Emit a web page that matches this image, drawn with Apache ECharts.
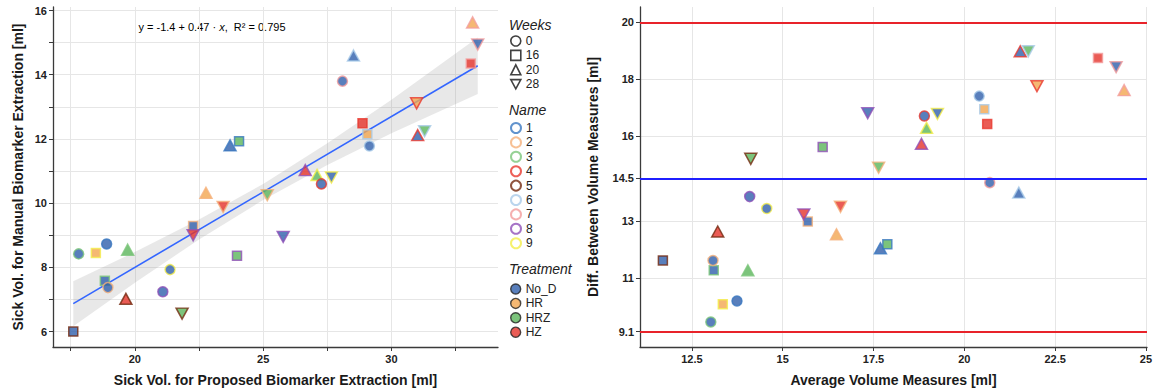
<!DOCTYPE html>
<html>
<head>
<meta charset="utf-8">
<title>Sick volume: proposed vs manual biomarker extraction</title>
<script src="https://cdn.jsdelivr.net/npm/echarts@6/dist/echarts.min.js"></script>
<style>
  html, body { margin: 0; padding: 0; background: #ffffff; }
  #chart { width: 1156px; height: 391px; }
</style>
</head>
<body>
<div id="chart"></div>
<script>
// ---- observations (one entry per scan) ----
const weeks      = ['20','0','16','16','0','20','16','20','20','0','28','20','28','28','16','28','28','16','0','16','0','20','0','16','0','0','20','28','16','20','28','16','28','20','28'];
const names      = ['6','7','4','6','6','1','1','8','9','4','9','2','2','2','2','8','8','8','3','9','1','3','9','3','2','8','5','5','5','7','7','7','4','4','6'];
const treatments = ['No_D','No_D','HZ','HR','No_D','No_D','HRZ','HZ','HRZ','No_D','No_D','HR','HRZ','HZ','No_D','HZ','No_D','HRZ','No_D','HR','No_D','HRZ','No_D','No_D','No_D','No_D','HZ','HRZ','No_D','HR','No_D','HZ','HR','No_D','HRZ'];

// left panel: proposed (x) vs manual (y) extraction, ml
const proposedVol = [28.52,28.09,28.87,29.06,29.14,23.71,24.06,26.64,27.10,27.27,27.66,22.77,25.16,23.44,22.27,22.27,25.78,23.98,17.81,18.48,18.90,19.72,21.37,18.83,18.95,21.09,19.65,21.84,17.60,33.16,33.36,33.09,30.98,31.02,31.29];
const manualVol   = [14.60,13.80,12.49,12.15,11.78,11.80,11.93,11.03,10.88,10.60,10.80,10.32,10.25, 9.88, 9.29, 9.00, 8.95, 8.36, 8.42, 8.45, 8.73, 8.55, 7.93, 7.58, 7.37, 7.24, 7.02, 6.56, 6.00,15.63,14.94,14.35,13.11,12.12,12.24];

// right panel: average (x) vs difference (y) of the two measures, ml
const averageVol = [21.50,20.70,20.63,20.55,20.41,17.69,17.88,18.82,18.96,18.90,19.26,16.48,17.64,16.59,15.69,15.58,17.34,16.10,13.02,13.35,13.74,14.04,14.56,13.10,13.08,14.09,13.21,14.12,11.70,24.40,24.18,23.68,22.00,21.54,21.76];
const diffVol    = [14.00,14.35,16.42,16.94,17.40,12.04,12.18,15.72,16.28,16.70,16.77,12.53,14.88,13.50,12.98,13.23,16.80,15.61, 9.44,10.07,10.18,11.26,13.44,11.26,11.61,13.86,12.63,15.19,11.61,17.61,18.42,18.74,17.75,18.98,18.98];

// legend levels
const weekLevels      = ['0','16','20','28'];
const nameLevels      = ['1','2','3','4','5','6','7','8','9'];
const treatmentLevels = ['No_D','HR','HRZ','HZ'];

// linear fit and its confidence band
const fitIntercept = -1.4;
const fitSlope     = 0.47;
const fitR2        = 0.795;
const fitXRange    = [17.6, 33.36];
const bandX    = [17.6, 20.0, 22.5, 25.0, 27.5, 30.0, 33.36];
const bandLow  = [6.17, 7.52, 8.87, 10.10, 11.19, 12.18, 13.40];
const bandHigh = [7.57, 8.48, 9.49, 10.60, 11.87, 13.22, 15.16];

// agreement lines
const meanDiff   = 14.5;
const upperLimit = 20;
const lowerLimit = 9.1;

// ticks and labels
const leftXTicks  = [17.5, 20, 22.5, 25, 27.5, 30, 32.5];
const leftXLabels = [20, 25, 30];
const leftYTicks  = [6, 7, 8, 9, 10, 11, 12, 13, 14, 15, 16];
const leftYLabels = [6, 8, 10, 12, 14, 16];
const rightXTicks = [12.5, 15, 17.5, 20, 22.5, 25];
const rightYTicks = [9.1, 11, 13, 14.5, 16, 18, 20];

// ---- styling ----
const nameColors = {
  '1': '#3a78c0', '2': '#f5b07a', '3': '#7cc67a', '4': '#e8382e', '5': '#73290f',
  '6': '#a9cbe8', '7': '#f39c9c', '8': '#9050b8', '9': '#f4ee4a'
};
const treatmentColors = { 'No_D': '#2f5fab', 'HR': '#f2a650', 'HRZ': '#5bb55b', 'HZ': '#e5332a' };
const weekSymbols = {
  '0':  { symbol: 'circle',   size: 10, rotate: 0 },
  '16': { symbol: 'rect',     size: 9,  rotate: 0 },
  '20': { symbol: 'triangle', size: [12, 11], rotate: 0 },
  '28': { symbol: 'triangle', size: [12, 11], rotate: 180 }
};
const downTrianglePath = 'path://M0,0L12,0L6,11Z';
const legendIcons = { '0': 'circle', '16': 'rect', '20': 'triangle', '28': downTrianglePath };

const FONT = '"Liberation Sans", Arial, Helvetica, sans-serif';
const AXIS_COLOR = '#3a3a3a';
const GRID_COLOR = '#e6e6e6';

function pointItem(i, x, y) {
  const s = weekSymbols[weeks[i]];
  return {
    value: [x, y],
    symbol: s.symbol,
    symbolSize: s.size,
    symbolRotate: s.rotate,
    itemStyle: {
      color: treatmentColors[treatments[i]],
      borderColor: nameColors[names[i]],
      borderWidth: 1.5
    }
  };
}

function valueAxis(opts) {
  return {
    type: 'value',
    gridIndex: opts.grid,
    min: opts.min,
    max: opts.max,
    name: opts.name,
    nameLocation: 'middle',
    nameGap: opts.nameGap,
    nameTextStyle: { fontFamily: FONT, fontSize: 14, fontWeight: 'bold', color: '#1a1a1a' },
    axisLine: { show: true, onZero: false, lineStyle: { color: AXIS_COLOR, width: 1.3 } },
    axisTick: { show: true, inside: false, length: 4, customValues: opts.ticks,
                lineStyle: { color: AXIS_COLOR, width: 1 } },
    axisLabel: { show: true, customValues: opts.labels, margin: 6,
                 fontFamily: FONT, fontSize: 11, fontWeight: 'bold', color: '#222',
                 formatter: v => String(v) },
    splitLine: { show: true, lineStyle: { color: GRID_COLOR, width: 1 } },
    minorTick: { show: false },
    minorSplitLine: { show: false }
  };
}

const chart = echarts.init(document.getElementById('chart'), null, { renderer: 'svg' });

const legendText = { fontFamily: FONT, fontSize: 12, color: '#222' };
function legendBlock(top, items) {
  return {
    orient: 'vertical', left: 510, top: top, padding: 0,
    itemWidth: 10, itemHeight: 10, itemGap: 2.4,
    selectedMode: false, textStyle: legendText,
    data: items
  };
}

const option = {
  animation: false,
  backgroundColor: '#ffffff',
  grid: [
    { left: 53, top: 7, width: 445, height: 340, outerBoundsMode: 'none' },
    { left: 640, top: 7, width: 507, height: 340, outerBoundsMode: 'none' }
  ],
  xAxis: [
    valueAxis({ grid: 0, min: 16.81, max: 34.15, ticks: leftXTicks, labels: leftXLabels,
                name: 'Sick Vol. for Proposed Biomarker Extraction [ml]', nameGap: 26 }),
    valueAxis({ grid: 1, min: 11.07, max: 25.03, ticks: rightXTicks, labels: rightXTicks,
                name: 'Average Volume Measures [ml]', nameGap: 26 })
  ],
  yAxis: [
    valueAxis({ grid: 0, min: 5.52, max: 16.11, ticks: leftYTicks, labels: leftYLabels,
                name: 'Sick Vol. for Manual Biomarker Extraction [ml]', nameGap: 28 }),
    valueAxis({ grid: 1, min: 8.56, max: 20.54, ticks: rightYTicks, labels: rightYTicks,
                name: 'Diff. Between Volume Measures [ml]', nameGap: 40 })
  ],
  legend: [
    legendBlock(35, weekLevels.map(w => ({
      name: w, icon: legendIcons[w],
      itemStyle: { color: 'rgba(0,0,0,0)', borderColor: '#111', borderWidth: 1.6 }
    }))),
    legendBlock(122, nameLevels.map(n => ({
      name: n, icon: 'circle',
      itemStyle: { color: 'rgba(0,0,0,0)', borderColor: nameColors[n], borderWidth: 2 }
    }))),
    legendBlock(283, treatmentLevels.map(t => ({
      name: t, icon: 'circle',
      itemStyle: { color: treatmentColors[t], borderColor: '#222', borderWidth: 1.4 }
    })))
  ],
  graphic: [
    { type: 'text', silent: true, style: {
        x: 212, y: 27, align: 'center', verticalAlign: 'middle',
        text: `{a|y = ${fitIntercept} + ${fitSlope} · }{i|x}{a|,  R² = ${fitR2}}`,
        rich: {
          a: { fontFamily: FONT, fontSize: 11, color: '#1a1a1a' },
          i: { fontFamily: FONT, fontSize: 11, fontStyle: 'italic', color: '#1a1a1a' }
        }
    } },
    { type: 'text', silent: true, style: { x: 509, y: 25, verticalAlign: 'middle', text: 'Weeks',
        fontFamily: FONT, fontSize: 14, fontStyle: 'italic', fill: '#222' } },
    { type: 'text', silent: true, style: { x: 509, y: 110, verticalAlign: 'middle', text: 'Name',
        fontFamily: FONT, fontSize: 14, fontStyle: 'italic', fill: '#222' } },
    { type: 'text', silent: true, style: { x: 509, y: 269, verticalAlign: 'middle', text: 'Treatment',
        fontFamily: FONT, fontSize: 14, fontStyle: 'italic', fill: '#222' } }
  ],
  series: [
    // confidence band of the fit
    {
      type: 'custom', name: 'band', xAxisIndex: 0, yAxisIndex: 0, silent: true, z: 1,
      data: bandX.map((x, i) => [x, bandLow[i], bandHigh[i]]),
      encode: { x: 0, y: [1, 2] },
      renderItem: function (params, api) {
        if (params.dataIndex !== 0) return null;
        const lower = bandX.map((x, i) => api.coord([x, bandLow[i]]));
        const upper = bandX.map((x, i) => api.coord([x, bandHigh[i]])).reverse();
        return { type: 'polygon', shape: { points: lower.concat(upper) },
                 style: { fill: 'rgba(150,150,150,0.22)' } };
      }
    },
    // fitted line
    {
      type: 'line', name: 'fit', xAxisIndex: 0, yAxisIndex: 0, silent: true, z: 2,
      showSymbol: false,
      data: fitXRange.map(x => [x, fitIntercept + fitSlope * x]),
      lineStyle: { color: '#3366ff', width: 1.6 }
    },
    // proposed vs manual
    {
      type: 'scatter', name: 'volumes', xAxisIndex: 0, yAxisIndex: 0, z: 3,
      data: proposedVol.map((x, i) => pointItem(i, x, manualVol[i]))
    },
    // average vs difference, with agreement lines
    {
      type: 'scatter', name: 'agreement', xAxisIndex: 1, yAxisIndex: 1, z: 3,
      data: averageVol.map((x, i) => pointItem(i, x, diffVol[i])),
      markLine: {
        silent: true, symbol: 'none', label: { show: false }, animation: false,
        data: [
          { yAxis: upperLimit, lineStyle: { color: '#e8232a', width: 2, type: 'solid' } },
          { yAxis: meanDiff,   lineStyle: { color: '#1f1fff', width: 2, type: 'solid' } },
          { yAxis: lowerLimit, lineStyle: { color: '#e8232a', width: 2, type: 'solid' } }
        ]
      }
    },
    // legend entries
    ...weekLevels.concat(nameLevels, treatmentLevels).map(n => ({
      type: 'scatter', name: n, xAxisIndex: 0, yAxisIndex: 0, data: []
    }))
  ]
};

chart.setOption(option);
</script>
</body>
</html>
